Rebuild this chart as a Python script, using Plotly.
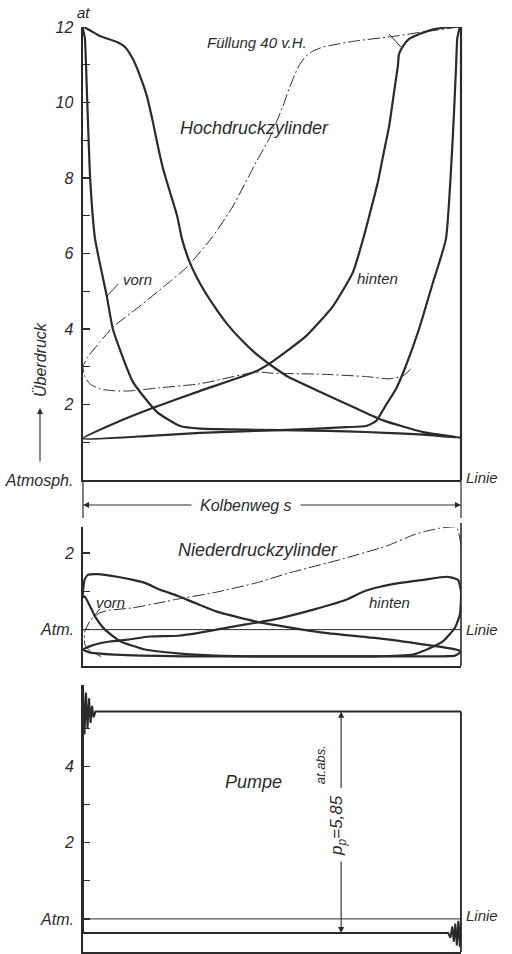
import plotly.graph_objects as go

# ---------------- data (piston stroke 0..1, pressure in at) ----------------
# Hochdruckzylinder, vorn (solid)
hp_vorn_x = [0.0, 0.045, 0.09, 0.111, 0.132, 0.151, 0.169, 0.185, 0.198, 0.212, 0.23, 0.249, 0.262,
             0.283, 0.31, 0.344, 0.38, 0.42, 0.458, 0.5, 0.545, 0.635, 0.722, 0.794, 0.9, 1.0,
             0.9, 0.8, 0.696, 0.6, 0.458, 0.31, 0.257, 0.196, 0.132, 0.079, 0.063, 0.032, 0.019,
             0.011, 0.005, 0.0]
hp_vorn_p = [12.0, 11.76, 11.6, 11.47, 11.15, 10.7, 10.17, 9.48, 8.85, 8.24, 7.63, 7.0, 6.38,
             5.75, 5.2, 4.65, 4.15, 3.7, 3.34, 3.02, 2.72, 2.3, 1.9, 1.58, 1.27, 1.12,
             1.2, 1.25, 1.29, 1.31, 1.33, 1.36, 1.43, 1.8, 2.6, 4.0, 4.87, 6.38, 7.97,
             10.1, 11.7, 12.0]
# Hochdruckzylinder, hinten (solid)
hp_hint_x = [0.995, 0.934, 0.889, 0.862, 0.847, 0.836, 0.833, 0.823, 0.81, 0.796, 0.78, 0.762, 0.741,
             0.714, 0.661, 0.59, 0.503, 0.458, 0.31, 0.177, 0.09, 0.0,
             0.177, 0.31, 0.458, 0.62, 0.696, 0.749, 0.775, 0.8, 0.828, 0.854, 0.889, 0.926,
             0.96, 0.979, 0.987, 0.99, 0.995]
hp_hint_p = [12.0, 11.95, 11.81, 11.68, 11.5, 11.28, 10.97, 10.28, 9.38, 8.69, 7.89, 7.18, 6.38,
             5.5, 4.6, 3.81, 3.15, 2.88, 2.36, 1.88, 1.53, 1.1,
             1.17, 1.25, 1.3, 1.36, 1.4, 1.43, 1.56, 1.96, 2.41, 3.02, 4.0, 5.24,
             6.38, 9.22, 10.97, 11.7, 12.0]
# Hochdruckzylinder, Fuellung 40 v.H. (dash-dot)
hp40_x = [0.995, 0.9, 0.828, 0.722, 0.635, 0.608, 0.59, 0.571, 0.545, 0.529, 0.492, 0.458, 0.397,
          0.344, 0.275, 0.222, 0.151, 0.079, 0.045, 0.013, 0.0, 0.005, 0.019, 0.045, 0.085, 0.124,
          0.2, 0.31, 0.458, 0.5, 0.635, 0.75, 0.81, 0.847, 0.868]
hp40_p = [12.0, 11.87, 11.76, 11.63, 11.47, 11.36, 11.23, 10.97, 10.36, 9.9, 9.03, 8.42, 7.26,
          6.46, 5.64, 5.19, 4.61, 4.05, 3.66, 3.26, 3.0, 2.73, 2.54, 2.41, 2.36, 2.36,
          2.44, 2.55, 2.86, 2.83, 2.8, 2.74, 2.68, 2.76, 2.95]

# Niederdruckzylinder, vorn (solid)
lp_vorn_x = [0.0, 0.004, 0.013, 0.04, 0.09, 0.132, 0.164, 0.204, 0.251, 0.3, 0.354, 0.458, 0.635, 0.81,
             0.987, 1.0, 0.984, 0.89, 0.7, 0.5, 0.35, 0.25, 0.164, 0.1, 0.058, 0.032, 0.005, 0.0]
lp_vorn_p = [0.85, 1.3, 1.43, 1.45, 1.38, 1.3, 1.22, 1.04, 0.88, 0.68, 0.47, 0.21, -0.08, -0.26,
             -0.52, -0.57, -0.68, -0.7, -0.7, -0.7, -0.68, -0.62, -0.52, -0.31, 0.0, 0.34, 0.86, 0.85]
# Niederdruckzylinder, hinten (solid)
lp_hint_x = [0.963, 0.9, 0.839, 0.786, 0.741, 0.696, 0.59, 0.503, 0.458, 0.397, 0.31, 0.251, 0.177,
             0.119, 0.071, 0.032, 0.0, 0.02, 0.1, 0.3, 0.5, 0.7, 0.767, 0.873, 0.91, 0.952, 0.984,
             0.997, 1.0, 0.992, 0.963]
lp_hint_p = [1.38, 1.3, 1.22, 1.12, 0.99, 0.78, 0.47, 0.26, 0.18, 0.08, -0.08, -0.16, -0.18,
             -0.26, -0.31, -0.39, -0.52, -0.6, -0.66, -0.7, -0.7, -0.7, -0.7, -0.65, -0.52, -0.31, 0.05,
             0.39, 0.99, 1.3, 1.38]
# Niederdruckzylinder, 40 v.H. (dash-dot)
lp40_x = [1.0, 0.992, 0.984, 0.944, 0.9, 0.873, 0.81, 0.786, 0.677, 0.545, 0.458, 0.344, 0.251, 0.222,
          0.132, 0.066, 0.045, 0.021, 0.005, 0.005, 0.02, 0.048]
lp40_p = [2.2, 2.6, 2.68, 2.65, 2.55, 2.47, 2.21, 2.13, 1.82, 1.48, 1.22, 0.96, 0.8, 0.74,
          0.57, 0.5, 0.44, 0.26, -0.05, -0.39, -0.57, -0.7]

# Pumpe
pump_x = [0.0, 0.0, 0.004, 0.008, 0.012, 0.016, 0.02, 0.024, 0.028, 0.033, 0.5, 1.0,
          1.0, 0.997, 0.993, 0.989, 0.985, 0.981, 0.977, 0.972, 0.966, 0.5, 0.0]
pump_p = [-0.37, 6.15, 4.85, 5.95, 5.0, 5.8, 5.15, 5.6, 5.3, 5.45, 5.45, 5.45,
          -0.05, -0.74, -0.05, -0.7, -0.12, -0.6, -0.2, -0.5, -0.37, -0.37, -0.37]
pump_high = 5.45
pump_low = -0.37

# leader lines of labels
lead_hp_vorn_x = [0.063, 0.093]
lead_hp_vorn_p = [4.87, 5.19]
lead_hp14_x = [0.81, 0.841]
lead_hp14_p = [11.81, 11.47]
lead_lp_vorn_x = [0.045, 0.03]
lead_lp_vorn_p = [0.55, 0.36]

hp_ticks = [1, 2, 3, 4, 5, 6, 7, 8, 9, 10, 11, 12]
hp_ticktext = ['', '2', '', '4', '', '6', '', '8', '', '10', '', '12']
lp_ticks = [0, 1, 2]
lp_ticktext = ['Atm.', '', '2']
pu_ticks = [0, 1, 2, 3, 4, 5]
pu_ticktext = ['Atm.', '', '2', '', '4', '']

# ---------------- layout geometry ----------------
W, H = 512, 954
L, R, T, B = 83, 51, 27, 2
PH = H - T - B


def pdom(top_px, bot_px):
    return [(H - B - bot_px) / PH, (H - B - top_px) / PH]


def py(ypx):
    return (H - B - ypx) / PH


def px(xpx):
    return (xpx - L) / (W - L - R)


dom1 = pdom(27, 480)
dom2 = pdom(527, 666)
dom3 = pdom(685, 952)
rng1 = [0, 12]
rng2 = [-0.95, 2.68]
rng3 = [-0.87, 6.15]


def to_paper(p, dom, rng):
    return dom[0] + (p - rng[0]) / (rng[1] - rng[0]) * (dom[1] - dom[0])


INK = '#2b2b2b'
FONT = 'Liberation Sans, Arial, sans-serif'

fig = go.Figure()


def add(x, y, ax, width=2.2, dash=None, shape='spline'):
    fig.add_trace(go.Scatter(
        x=x, y=y, mode='lines', xaxis='x' + ax, yaxis='y' + ax,
        line=dict(color=INK, width=width, dash=dash, shape=shape,
                  smoothing=0.5 if shape == 'spline' else None),
        hoverinfo='skip', showlegend=False))


DD = '12px,3px,2px,3px'
add(hp40_x, hp40_p, '', width=1.0, dash=DD)
add(hp_vorn_x, hp_vorn_p, '')
add(hp_hint_x, hp_hint_p, '')
add(lead_hp_vorn_x, lead_hp_vorn_p, '', width=1.0, shape='linear')
add(lead_hp14_x, lead_hp14_p, '', width=1.0, shape='linear')

add([0, 1], [0, 0], '2', width=1.0, shape='linear')
add(lp40_x, lp40_p, '2', width=1.0, dash=DD)
add(lp_vorn_x, lp_vorn_p, '2')
add(lp_hint_x, lp_hint_p, '2')
add(lead_lp_vorn_x, lead_lp_vorn_p, '2', width=1.0, shape='linear')

add([0, 1], [0, 0], '3', width=1.0, shape='linear')
add(pump_x, pump_p, '3', width=2.0, shape='linear')

axcommon = dict(showgrid=False, zeroline=False, color=INK, linecolor=INK, automargin=False)
xcommon = dict(range=[0, 1], domain=[0, 1], showticklabels=False, ticks='', showline=True,
               linewidth=1.6, **axcommon)
tickfont = dict(family=FONT, size=16, color=INK, style='italic')
ycommon = dict(ticks='inside', ticklen=7, tickwidth=1.2, tickcolor=INK, showline=True,
               tickmode='array', tickfont=tickfont, ticklabelstandoff=4, **axcommon)

fig.update_layout(
    width=W, height=H, margin=dict(l=L, r=R, t=T, b=B, autoexpand=False),
    paper_bgcolor='white', plot_bgcolor='white',
    font=dict(family=FONT, color=INK, style='italic'),
    xaxis=dict(anchor='y', **xcommon),
    xaxis2=dict(anchor='y2', **xcommon),
    xaxis3=dict(anchor='y3', **xcommon),
    yaxis=dict(anchor='x', domain=dom1, range=rng1, tickvals=[0] + hp_ticks,
               ticktext=['Atmosph.'] + hp_ticktext, linewidth=2.4, **ycommon),
    yaxis2=dict(anchor='x2', domain=dom2, range=rng2, tickvals=lp_ticks,
                ticktext=lp_ticktext, linewidth=1.8, **ycommon),
    yaxis3=dict(anchor='x3', domain=dom3, range=rng3, tickvals=pu_ticks,
                ticktext=pu_ticktext, linewidth=1.8, **ycommon),
)

shapes = []


def vline(x, y0, y1, w=1.6):
    shapes.append(dict(type='line', xref='paper', yref='paper', x0=x, x1=x, y0=y0, y1=y1,
                       line=dict(color=INK, width=w)))


# right border lines of each diagram
vline(1, to_paper(0, dom1, rng1), to_paper(12, dom1, rng1), 2.2)
vline(1, dom2[0], py(523), 1.6)
vline(1, dom3[0], to_paper(pump_high, dom3, rng3), 1.8)
# stroke marks between HP and LP diagrams
vline(0, py(518), dom1[0], 1.2)
vline(1, py(518), dom1[0], 1.2)
fig.update_layout(shapes=shapes)

ann = []


def text(t, x, y, ax='', size=17, xanchor='center', angle=0, xref=None, yref=None, **kw):
    ann.append(dict(text=t, x=x, y=y, xref=xref or ('x' + ax), yref=yref or ('y' + ax),
                    showarrow=False, xanchor=xanchor, yanchor='middle', textangle=angle,
                    font=dict(family=FONT, size=size, color=INK, style='italic'), **kw))


text('Füllung 40 v.H.', 0.46, 11.6, size=15)
text('14. v.H.', 0.828, 12.1, size=14)
text('Hochdruckzylinder', 0.455, 9.32, size=18)
text('vorn', 0.143, 5.32, size=15)
text('hinten', 0.778, 5.35, size=15)
text('Linie', 1, 0, xanchor='left', size=15, xshift=3, yshift=3)
text('at', px(83), py(13), xref='paper', yref='paper', size=15)
text('Überdruck', px(40), py(360), xref='paper', yref='paper', size=16, angle=-90)
text('Kolbenweg s', px(246), py(505), xref='paper', yref='paper', size=16)

text('Niederdruckzylinder', 0.462, 2.08, '2', size=18)
text('vorn', 0.072, 0.7, '2', size=15)
text('hinten', 0.812, 0.7, '2', size=15)
text('Linie', 1, 0, '2', xanchor='left', size=15, xshift=3)

text('Pumpe', 0.452, 3.6, '3', size=18)
text('p<sub>p</sub>=5,85', 0.675, 2.45, '3', size=17, angle=-90)
text('at.abs.', 0.628, 4.05, '3', size=13, angle=-90)
text('Linie', 1, 0, '3', xanchor='left', size=15, xshift=3, yshift=3)


def arrow(x, y, ax, ay, xref, yref, axref='pixel', ayref='pixel'):
    ann.append(dict(x=x, y=y, ax=ax, ay=ay, xref=xref, yref=yref, axref=axref, ayref=ayref,
                    text='', showarrow=True, arrowhead=2, arrowsize=1.1, arrowwidth=1.1,
                    arrowcolor=INK))


# Ueberdruck arrow
arrow(px(40), py(408), 0, 55, 'paper', 'paper')
# Kolbenweg arrows
arrow(0, py(505), 110, 0, 'paper', 'paper')
arrow(1, py(505), -162, 0, 'paper', 'paper')
# pump pressure arrows
arrow(0.683, pump_high, 0.683, 3.4, 'x3', 'y3', 'x3', 'y3')
arrow(0.683, pump_low, 0.683, 1.55, 'x3', 'y3', 'x3', 'y3')

fig.update_layout(annotations=ann)
fig.write_html('out.html', config={'displayModeBar': False, 'staticPlot': True},
               post_script="document.body.style.margin='0';document.body.style.overflow='hidden';")
